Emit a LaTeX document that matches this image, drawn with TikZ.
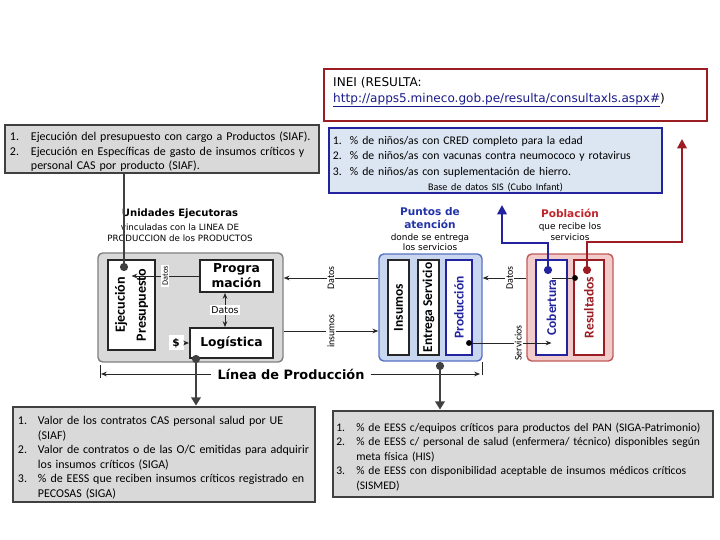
\documentclass[tikz,border=0pt]{standalone}
\usepackage{fontspec}
\setmainfont{Carlito}
\newfontfamily\verd{DejaVu Sans}
\usepackage{enumitem}
\usetikzlibrary{arrows.meta, positioning}

\definecolor{boxgray}{HTML}{D9D9D9}
\definecolor{edgegray}{HTML}{404040}
\definecolor{inered}{HTML}{9B1C22}
\definecolor{navy}{HTML}{2323A0}
\definecolor{paleblue}{HTML}{DCE6F2}
\definecolor{ptblue}{HTML}{C8D6F0}
\definecolor{ptedge}{HTML}{5872C4}
\definecolor{pbred}{HTML}{F2CBCB}
\definecolor{pbedge}{HTML}{C25A5A}
\definecolor{ttlblue}{HTML}{2233A8}
\definecolor{ttlred}{HTML}{C0242B}
\definecolor{urlblue}{HTML}{1A1A8C}

\setlist[enumerate]{nosep, label=\arabic*., align=left, labelindent=0pt, labelsep=0pt}

\begin{document}
\begin{tikzpicture}[x=0.03cm, y=-0.03cm,
    listbox/.style={draw=edgegray, line width=2.4pt, fill=boxgray, inner xsep=0.15cm, inner ysep=0pt, align=left, font=\fontsize{10.2}{12.4}\selectfont},
    panel/.style={draw, rounded corners=4pt, line width=1.2pt},
    cell/.style={draw=black!85, fill=white, line width=1.6pt, inner sep=0pt, rotate=90, align=center, minimum width=2.85cm, font=\fontsize{11.5}{17}\selectfont\bfseries},
    flat/.style={draw=black!85, fill=white, line width=1.6pt, inner sep=0pt, align=center, font=\verd\fontsize{10.5}{12.8}\selectfont\bfseries},
    wire/.style={draw=black!85, line width=0.8pt, -{Stealth[length=5pt,width=4pt]}},
    lbl/.style={fill=white, inner sep=1pt, font=\fontsize{8.5}{9}\selectfont},
    feed/.style={draw=edgegray, line width=2.4pt},
    bullet/.style={circle, fill, inner sep=0pt, minimum size=7pt},
    ttl/.style={align=center, font=\verd\fontsize{9}{11}\selectfont\bfseries},
    sub/.style={align=center, font=\verd\fontsize{7.6}{9}\selectfont},
  ]
\path[use as bounding box, fill=white] (0,0) rectangle (720,540);

% Fuentes de datos
\node[draw=inered, line width=2.4pt, minimum width=11.49cm, minimum height=1.56cm] (inei) at (515.5,95) {};
\node[anchor=north west, align=left, inner sep=0pt, font=\verd\fontsize{10.3}{13.6}\selectfont] (ineitxt) at (333,77)
  {INEI (RESULTA:\\\textcolor{urlblue}{\underline{http://apps5.mineco.gob.pe/resulta/consultaxls.aspx\#}})};

\node[listbox, minimum width=9.42cm, minimum height=1.44cm, text width=9.12cm] (siaf) at (162,149) {%
  \begin{enumerate}[leftmargin=0.63cm, labelwidth=0.63cm]
  \item Ejecución del presupuesto con cargo a Productos (SIAF).
  \item Ejecución en Específicas de gasto de insumos críticos y\newline personal CAS por producto (SIAF).
  \end{enumerate}};

\node[listbox, draw=navy, fill=paleblue, minimum width=9.99cm, minimum height=1.95cm, text width=9.75cm, inner xsep=0.12cm, font=\fontsize{10}{13.2}\selectfont] (sis) at (495.5,160.5) {%
  \begin{enumerate}[leftmargin=0.51cm, labelwidth=0.51cm]
  \item \% de niños/as con CRED completo para la edad
  \item \% de niños/as con vacunas contra neumococo y rotavirus
  \item \% de niños/as con suplementación de hierro.
  \end{enumerate}
  \par\makebox[\linewidth][c]{\fontsize{8.6}{10}\selectfont Base de datos SIS (Cubo Infant)}};

\node[listbox, minimum width=9.06cm, minimum height=2.85cm, text width=8.76cm] (siga) at (164,454.5) {%
  \begin{enumerate}[leftmargin=0.6cm, labelwidth=0.6cm]
  \item Valor de los contratos CAS personal salud por UE\newline (SIAF)
  \item Valor de contratos o de las O/C emitidas para adquirir\newline los insumos críticos (SIGA)
  \item \% de EESS que reciben insumos críticos registrado en\newline PECOSAS (SIGA)
  \end{enumerate}};

\node[listbox, minimum width=11.4cm, minimum height=2.58cm, text width=11.2cm, inner xsep=0.1cm, font=\fontsize{9.9}{12.4}\selectfont] (pan) at (523,454) {%
  \begin{enumerate}[leftmargin=0.6cm, labelwidth=0.6cm]
  \item \% de EESS c/equipos críticos para productos del PAN (SIGA-Patrimonio)
  \item \% de EESS c/ personal de salud (enfermera/ técnico) disponibles según\newline meta física (HIS)
  \item \% de EESS con disponibilidad aceptable de insumos médicos críticos\newline (SISMED)
  \end{enumerate}};

% Unidades Ejecutoras
\node[ttl, font=\verd\fontsize{8.6}{10}\selectfont\bfseries] (uettl) at (180,214) {Unidades Ejecutoras};
\node[sub, font=\verd\fontsize{7.4}{9.4}\selectfont] (uesub) at (180,232.5) {vinculadas con la LINEA DE\\PRODUCCION de los PRODUCTOS};
\node[panel, draw=black!50, fill=boxgray, minimum width=5.55cm, minimum height=3.27cm] (ue) at (190.5,307.5) {};
\node[cell, minimum width=2.7cm, minimum height=1.41cm, font=\fontsize{12}{18}\selectfont\bfseries] (ejec) at (131.5,305) {Ejecución\\Presupuesto};
\node[flat, minimum width=2.19cm, minimum height=0.96cm] (prog) at (236.5,276) {Progra\\mación};
\node[flat, minimum width=2.49cm, minimum height=0.9cm] (logi) at (231.5,343) {Logística};
\node[lbl, font=\verd\fontsize{9}{10}\selectfont\bfseries, minimum width=0.45cm, minimum height=0.45cm] (cash) at (176,343) {\$};

\draw[wire] (prog.west) -- node[lbl, rotate=90, font=\fontsize{7}{8}\selectfont] (dat1) {Datos} (ejec.east |- prog.west);
\draw[wire, {Stealth[length=5pt,width=4pt]}-{Stealth[length=5pt,width=4pt]}] (prog.south -| 225,0) -- node[lbl, font=\verd\fontsize{8}{9}\selectfont] (dat2) {Datos} (logi.north -| 225,0);
\draw[wire] (cash) -- (logi);

% Puntos de atencion
\node[ttl, text=ttlblue] (ptttl) at (430,218.5) {Puntos de\\atención};
\node[sub] (ptsub) at (430,242) {donde se entrega\\los servicios};
\node[panel, draw=ptedge, fill=ptblue, minimum width=3.09cm, minimum height=3.21cm] (pt) at (430.5,307.5) {};
\node[cell, minimum height=0.63cm] (insu) at (398.5,307.5) {Insumos};
\node[cell, minimum height=0.63cm] (entr) at (428.5,307.5) {Entrega Servicio};
\node[cell, draw=navy, text=navy, minimum height=0.78cm] (prod) at (459,307.5) {Producción};

% Poblacion
\node[ttl, text=ttlred] (pbttl) at (570,213) {Población};
\node[sub] (pbsub) at (570,231.5) {que recibe los\\servicios};
\node[panel, draw=pbedge, fill=pbred, minimum width=2.58cm, minimum height=3.21cm] (pb) at (570,307.5) {};
\node[cell, draw=navy, text=navy, minimum height=0.93cm] (cobe) at (551.5,307.5) {Cobertura};
\node[cell, draw=inered, text=inered, minimum height=0.9cm] (resu) at (589,307.5) {Resultados};

% Flujos entre bloques
\draw[wire] (pt.west |- 0,278) -- node[lbl, rotate=90] (dat3) {Datos} (ue.east |- 0,278);
\draw[wire] (ue.east |- 0,331) -- node[lbl, rotate=90] (insm) {insumos} (pt.west |- 0,331);
\draw[wire] (pb.west |- 0,278) -- node[lbl, rotate=90, pos=0.38] (dat4) {Datos} (pt.east |- 0,278);
\node[bullet, minimum size=5pt] (proddot) at (469,343) {};
\draw[wire] (proddot) -- node[lbl, rotate=90, pos=0.58] (serv) {Servicios} (cobe.west |- proddot);
\node[bullet, minimum size=5pt] (linkdot) at (575,278) {};
\draw[wire, -] (cobe.east |- linkdot) -- (linkdot);

% Linea de produccion
\node[font=\verd\fontsize{11}{13}\selectfont\bfseries, inner xsep=5pt] (lpro) at (291,374) {Línea de Producción};
\coordinate (lend) at (101,374);
\coordinate (rend) at (480,374);
\draw[wire] (lpro.west) -- (lend);
\draw[wire] (lpro.east) -- (rend);
\draw[black!85, line width=0.8pt] (100,365) -- (100,378) (482,362) -- (482,375);

% Enlaces a indicadores
\node[bullet, edgegray] (ejecdot) at (124,267) {};
\draw[feed] (siaf.south -| ejecdot) -- (ejecdot);
\node[bullet, edgegray] (logidot) at (196,359) {};
\draw[feed, -{Triangle[length=7pt,width=8pt]}] (logidot) -- (siga.north -| logidot);
\node[bullet, edgegray] (entrdot) at (440,366) {};
\draw[feed, -{Triangle[length=7pt,width=8pt]}] (entrdot) -- (pan.north -| entrdot);

\node[bullet, navy] (cobedot) at (548,270) {};
\coordinate (blueknee) at (502,243);
\coordinate (bluetop) at (502,205);
\draw[navy, line width=2.4pt, -{Triangle[length=8pt,width=8pt]}] (cobedot) |- (blueknee) -- (bluetop);

\node[bullet, inered] (resudot) at (587,270) {};
\coordinate (redknee) at (682,242);
\coordinate (redtop) at (682,139);
\draw[inered, line width=2.4pt, -{Triangle[length=8pt,width=8pt]}] (resudot) |- (redknee) -- (redtop);
\end{tikzpicture}
\end{document}
